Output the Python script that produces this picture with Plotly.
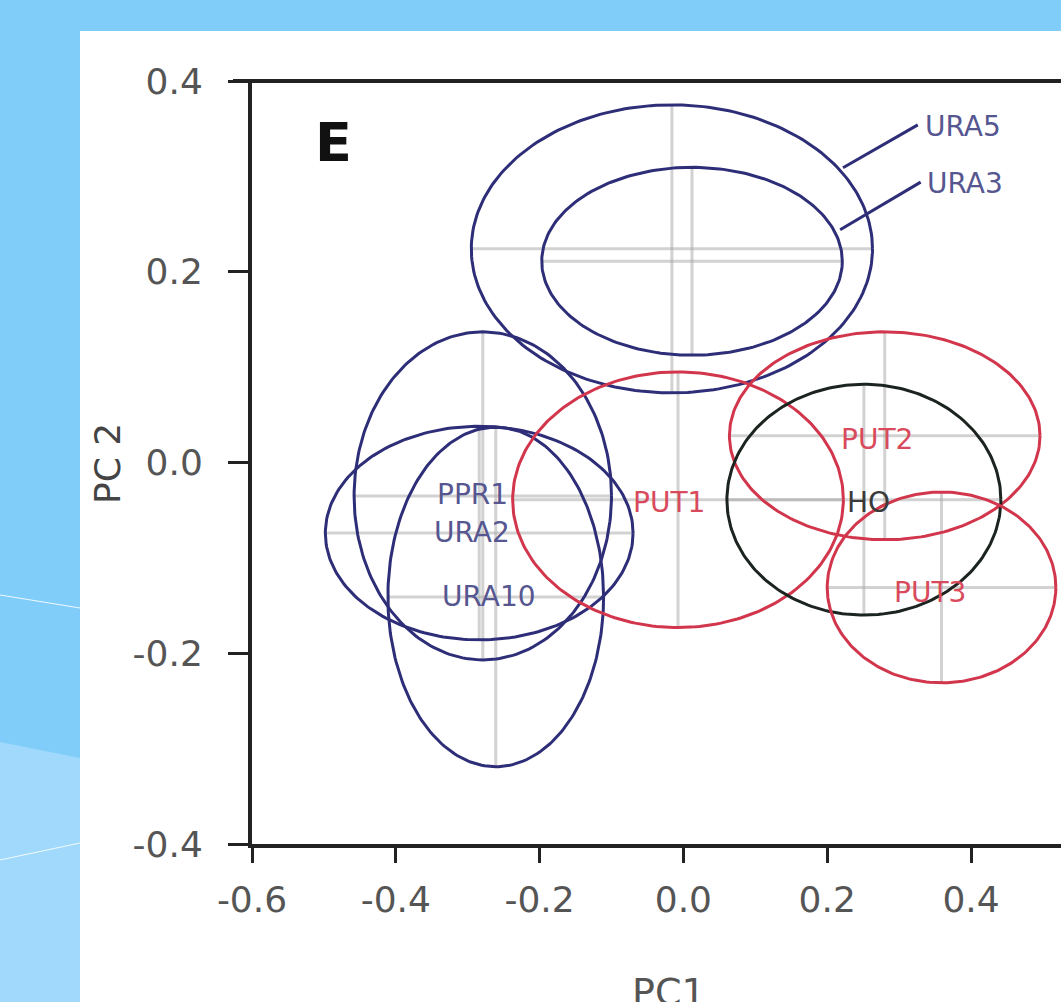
import numpy as np
import plotly.graph_objects as go

# ---------------- data ----------------
group_names = ["URA5", "URA3", "PPR1", "URA2", "URA10", "PUT1", "PUT2", "HO", "PUT3"]
center_x = [-0.016, 0.012, -0.279, -0.284, -0.261, -0.0075, 0.280, 0.251, 0.359]
center_y = [0.224, 0.211, -0.035, -0.074, -0.141, -0.039, 0.028, -0.039, -0.131]
semi_x = [0.279, 0.209, 0.179, 0.214, 0.150, 0.230, 0.216, 0.1905, 0.159]
semi_y = [0.151, 0.0985, 0.172, 0.112, 0.178, 0.134, 0.109, 0.121, 0.100]
group_kind = ["URA", "URA", "URA", "URA", "URA", "PUT", "PUT", "HO", "PUT"]

label_x = [0.333, 0.336, -0.293, -0.294, -0.270, -0.020, 0.269, 0.257, 0.343]
label_y = [0.352, 0.293, -0.034, -0.073, -0.141, -0.042, 0.024, -0.042, -0.136]
# leader lines for the two labels outside their ellipses (URA5, URA3)
leader_x = [[0.222, 0.326], [0.218, 0.330]]
leader_y = [[0.309, 0.354], [0.244, 0.294]]

x_tick_vals = [-0.6, -0.4, -0.2, 0.0, 0.2, 0.4]
x_tick_text = ["-0.6", "-0.4", "-0.2", "0.0", "0.2", "0.4"]
y_tick_vals = [0.4, 0.2, 0.0, -0.2, -0.4]
y_tick_text = ["0.4", "0.2", "0.0", "-0.2", "-0.4"]

# ---------------- style ----------------
W, H = 1061, 1002
L, T, B = 252, 81, 158
PW, PH = W - L, H - T - B
XPX = 719.0  # px per data unit
x_range = [-0.6, -0.6 + PW / XPX]
y_range = [-0.4, 0.4]

line_col = {"URA": "#2e2e78", "PUT": "#d2364c", "HO": "#1c241f"}
text_col = {"URA": "#565690", "PUT": "#d84a5c", "HO": "#3a3a3a"}
FONT = "DejaVu Sans"


def px(xp):
    return (xp - L) / PW


def py(yp):
    return (H - B - yp) / PH


fig = go.Figure()

# crosshairs (axes of each ellipse)
for i in range(len(group_names)):
    fig.add_trace(go.Scatter(
        x=[center_x[i] - semi_x[i], center_x[i] + semi_x[i], None, center_x[i], center_x[i]],
        y=[center_y[i], center_y[i], None, center_y[i] - semi_y[i], center_y[i] + semi_y[i]],
        mode="lines", line=dict(color="rgba(165,165,165,0.5)", width=3),
        hoverinfo="skip", showlegend=False))

# ellipses
t = np.linspace(0, 2 * np.pi, 241)
for i in range(len(group_names)):
    fig.add_trace(go.Scatter(
        x=center_x[i] + semi_x[i] * np.cos(t),
        y=center_y[i] + semi_y[i] * np.sin(t),
        mode="lines", line=dict(color=line_col[group_kind[i]], width=3),
        name=group_names[i], showlegend=False))

# leader lines
for lx, ly in zip(leader_x, leader_y):
    fig.add_trace(go.Scatter(x=lx, y=ly, mode="lines",
                             line=dict(color="#2e2e78", width=3),
                             hoverinfo="skip", showlegend=False))

annotations = []
for i in range(len(group_names)):
    outside = group_names[i] in ("URA5", "URA3")
    annotations.append(dict(
        x=label_x[i], y=label_y[i], xref="x", yref="y", text=group_names[i],
        showarrow=False, xanchor="left" if outside else "center", yanchor="middle",
        font=dict(family=FONT, size=28, color=text_col[group_kind[i]])))

annotations.append(dict(x=-0.487, y=0.335, xref="x", yref="y", text="<b>E</b>",
                        showarrow=False, xanchor="center", yanchor="middle",
                        font=dict(family=FONT, size=54, color="#111111")))
annotations.append(dict(x=px(107), y=py(464), xref="paper", yref="paper", text="PC 2",
                        textangle=-90, showarrow=False, xanchor="center", yanchor="middle",
                        font=dict(family=FONT, size=36, color="#444444")))
annotations.append(dict(x=px(669), y=py(968), xref="paper", yref="paper", text="PC1",
                        showarrow=False, xanchor="center", yanchor="top",
                        font=dict(family=FONT, size=38, color="#555555")))

shapes = [
    # lighter blue decorative region at lower left
    dict(type="path", xref="paper", yref="paper", layer="below",
         path=f"M {px(0)},{py(742)} L {px(80)},{py(758)} L {px(80)},{py(1002)} L {px(0)},{py(1002)} Z",
         fillcolor="#a0d9fb", line=dict(width=0)),
    dict(type="line", xref="paper", yref="paper", layer="below",
         x0=px(0), y0=py(595), x1=px(80), y1=py(608),
         line=dict(color="rgba(255,255,255,0.85)", width=1.2)),
    dict(type="line", xref="paper", yref="paper", layer="below",
         x0=px(0), y0=py(860), x1=px(80), y1=py(843),
         line=dict(color="rgba(255,255,255,0.85)", width=1.2)),
    # white panel
    dict(type="rect", xref="paper", yref="paper", layer="below",
         x0=px(80), y0=py(1002), x1=px(1061), y1=py(31),
         fillcolor="white", line=dict(width=0)),
    # top spine
    dict(type="line", xref="paper", yref="paper", layer="above",
         x0=px(233), y0=1, x1=1, y1=1, line=dict(color="#222222", width=4)),
]

fig.update_layout(
    width=W, height=H,
    margin=dict(l=L, r=0, t=T, b=B),
    paper_bgcolor="#80cdfa", plot_bgcolor="rgba(0,0,0,0)",
    annotations=annotations, shapes=shapes,
    xaxis=dict(range=x_range, showgrid=False, zeroline=False,
               showline=True, linecolor="#222222", linewidth=4,
               ticks="outside", ticklen=15, tickwidth=3, tickcolor="#222222",
               tickvals=x_tick_vals, ticktext=x_tick_text, ticklabelstandoff=6,
               tickfont=dict(family=FONT, size=36, color="#555555")),
    yaxis=dict(range=y_range, showgrid=False, zeroline=False,
               showline=True, linecolor="#222222", linewidth=4,
               ticks="outside", ticklen=20, tickwidth=3, tickcolor="#222222",
               tickvals=y_tick_vals, ticktext=y_tick_text, ticklabelstandoff=18,
               tickfont=dict(family=FONT, size=36, color="#555555")),
)

fig.write_html(
    "out.html",
    config={"displayModeBar": False},
    post_script="document.body.style.margin='0';document.body.style.overflow='hidden';"
                "document.body.style.background='#80cdfa';",
)
